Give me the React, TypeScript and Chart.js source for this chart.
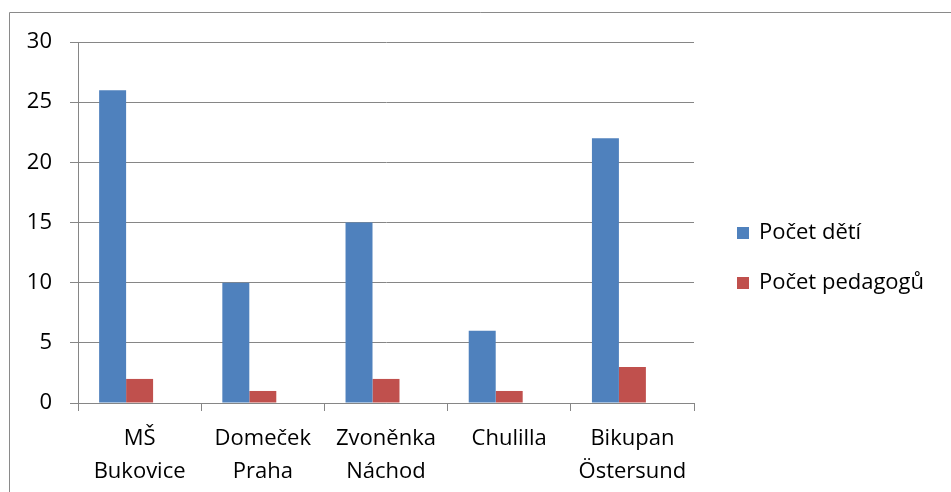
import React, { useEffect, useRef } from "react";
import { Chart, registerables } from "chart.js";

Chart.register(...registerables);

const categories: string[][] = [
  ["MŠ", "Bukovice"],
  ["Domeček", "Praha"],
  ["Zvoněnka", "Náchod"],
  ["Chulilla"],
  ["Bikupan", "Östersund"],
];
const seriesNames = ["Počet dětí", "Počet pedagogů"];
const childrenCounts = [26, 10, 15, 6, 22];
const teacherCounts = [2, 1, 2, 1, 3];
const yTicks = { min: 0, max: 30, step: 5 };

const FONT = "'Open Sans', 'Noto Sans', sans-serif";
const GRID = "#868686";
const BLUE = "#4F81BD";
const RED = "#C0504D";

// Frame around the whole chart and a legend on the right side
const framePlugin = {
  id: "frame",
  afterDraw(chart: Chart) {
    const ctx = chart.ctx;
    ctx.save();
    ctx.strokeStyle = "#8a8a8a";
    ctx.lineWidth = 1;
    ctx.beginPath();
    ctx.moveTo(9.5, chart.height);
    ctx.lineTo(9.5, 12.5);
    ctx.lineTo(chart.width, 12.5);
    ctx.stroke();

    const area = chart.chartArea;
    const x0 = area.right + 43;
    let y = 233;
    ctx.font = `22px ${FONT}`;
    ctx.textBaseline = "middle";
    ctx.textAlign = "left";
    chart.data.datasets.forEach((ds: any) => {
      if (!ds.label) return;
      ctx.fillStyle = ds.backgroundColor;
      ctx.fillRect(x0, y - 6, 12, 12);
      ctx.fillStyle = "#000";
      ctx.fillText(ds.label, x0 + 22, y);
      y += 50;
    });
    ctx.restore();
  },
};

export default function App() {
  const canvasRef = useRef<HTMLCanvasElement | null>(null);

  useEffect(() => {
    if (!canvasRef.current) return;
    const chart = new Chart(canvasRef.current, {
      type: "bar",
      data: {
        labels: categories,
        datasets: [
          { label: seriesNames[0], data: childrenCounts, backgroundColor: BLUE },
          { label: seriesNames[1], data: teacherCounts, backgroundColor: RED },
          // empty third slot in each group
          { label: "", data: [], backgroundColor: "transparent" },
        ],
      },
      options: {
        animation: false,
        responsive: false,
        devicePixelRatio: 1,
        layout: { padding: { left: 0, top: 42, right: 257, bottom: 0 } },
        datasets: { bar: { categoryPercentage: 0.657, barPercentage: 1 } },
        plugins: { legend: { display: false }, tooltip: { enabled: false } },
        scales: {
          x: {
            afterFit(scale: any) {
              scale.height = 89;
            },
            grid: {
              display: true,
              drawOnChartArea: false,
              drawTicks: true,
              tickLength: 8,
              color: GRID,
              offset: true,
            },
            border: { color: GRID },
            ticks: {
              color: "#000",
              padding: 11,
              maxRotation: 0,
              autoSkip: false,
              font: { family: FONT, size: 22, lineHeight: 1.5 },
            },
          },
          y: {
            min: yTicks.min,
            max: yTicks.max,
            afterFit(scale: any) {
              scale.width = 78;
            },
            grid: { color: GRID, tickLength: 8 },
            border: { color: GRID },
            ticks: {
              stepSize: yTicks.step,
              color: "#000",
              padding: 18,
              font: { family: FONT, size: 22 },
            },
          },
        },
      },
      plugins: [framePlugin],
    });
    return () => chart.destroy();
  }, []);

  return (
    <div style={{ position: "fixed", left: 0, top: 0, width: 951, height: 492, background: "#fff" }}>
      <canvas ref={canvasRef} width={951} height={492} />
    </div>
  );
}
